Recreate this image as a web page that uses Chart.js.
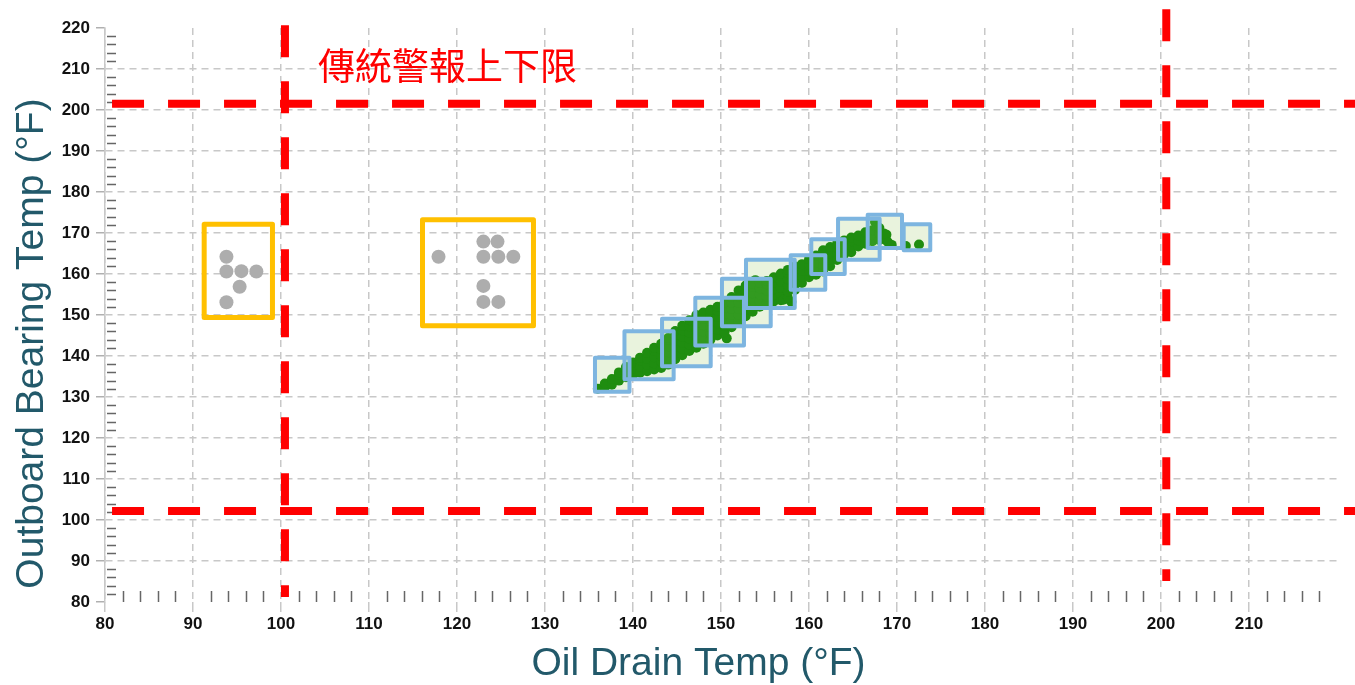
<!DOCTYPE html>
<html>
<head>
<meta charset="utf-8">
<script src="https://cdn.jsdelivr.net/npm/chart.js@4.4.1/dist/chart.umd.min.js"></script>
<style>
    html, body { margin: 0; padding: 0; background: #fff; }
    #wrap { width: 1355px; height: 685px; position: relative; }
</style>
</head>
<body>
<div id="wrap"><canvas id="chart"></canvas></div>
<script>
// Normal operation readings (oil drain temp, outboard bearing temp)
const normalPoints = [
    [136.0,132.0],
    [136.8,132.4],[136.8,133.3],
    [137.6,133.0],[137.6,134.4],
    [138.4,134.0],[138.4,135.4],[138.4,136.0],
    [139.2,134.8],[139.2,136.2],[139.2,137.3],
    [140.0,135.4],[140.0,136.9],[140.0,138.4],
    [140.8,135.9],[140.8,137.4],[140.8,138.9],[140.8,139.6],
    [141.6,136.3],[141.6,137.8],[141.6,139.3],[141.6,140.8],
    [142.4,136.7],[142.4,138.2],[142.4,139.7],[142.4,141.2],[142.4,142.0],
    [143.2,137.1],[143.2,138.6],[143.2,140.1],[143.2,141.6],[143.2,143.0],
    [144.0,137.9],[144.0,139.4],[144.0,140.9],[144.0,142.4],[144.0,143.9],[144.0,144.4],
    [144.8,139.2],[144.8,140.7],[144.8,142.2],[144.8,143.7],[144.8,145.2],[144.8,146.1],
    [145.6,140.2],[145.6,141.7],[145.6,143.2],[145.6,144.7],[145.6,146.2],[145.6,147.4],
    [146.4,141.2],[146.4,142.7],[146.4,144.2],[146.4,145.7],[146.4,147.2],[146.4,148.7],
    [147.2,142.0],[147.2,143.5],[147.2,145.0],[147.2,146.5],[147.2,148.0],[147.2,149.5],[147.2,150.0],
    [148.0,143.0],[148.0,144.5],[148.0,146.0],[148.0,147.5],[148.0,149.0],[148.0,150.6],
    [148.8,144.0],[148.8,145.5],[148.8,147.0],[148.8,148.5],[148.8,150.0],[148.8,151.3],
    [149.6,145.0],[149.6,146.5],[149.6,148.0],[149.6,149.5],[149.6,151.0],[149.6,152.0],
    [150.65,144.3],
    [150.4,145.8],[150.4,147.3],[150.4,148.8],[150.4,150.3],[150.4,151.8],[150.4,152.9],
    [151.2,147.0],[151.2,148.5],[151.2,150.0],[151.2,151.5],[151.2,153.0],[151.2,154.4],
    [152.0,148.5],[152.0,150.0],[152.0,151.5],[152.0,153.0],[152.0,154.5],[152.0,156.0],
    [152.8,149.7],[152.8,151.2],[152.8,152.7],[152.8,154.2],[152.8,155.7],[152.8,157.2],
    [153.3,157.8],[153.9,158.5],
    [153.6,150.8],[153.6,152.3],[153.6,153.8],[153.6,155.3],[153.6,156.8],[153.6,157.6],
    [154.4,152.0],[154.4,153.5],[154.4,155.0],[154.4,156.5],[154.4,157.9],
    [155.2,153.0],[155.2,154.5],[155.2,156.0],[155.2,157.5],[155.2,158.3],
    [156.0,153.3],[156.0,154.8],[156.0,156.3],[156.0,157.8],[156.0,159.2],
    [156.8,153.6],[156.8,155.1],[156.8,156.6],[156.8,158.1],[156.8,159.6],[156.8,160.1],
    [157.1,153.7],[158.0,153.2],
    [157.6,154.2],[157.6,155.7],[157.6,157.2],[157.6,158.7],[157.6,160.2],[157.6,161.0],
    [158.4,156.1],[158.4,157.6],[158.4,159.1],[158.4,160.6],[158.4,161.8],
    [159.2,157.8],[159.2,159.3],[159.2,160.8],[159.2,162.4],
    [160.0,159.2],[160.0,160.7],[160.0,162.2],[160.0,163.6],
    [160.8,159.8],[160.8,161.3],[160.8,162.8],[160.8,164.5],
    [161.6,160.6],[161.6,162.1],[161.6,163.6],[161.6,165.2],[161.6,165.8],
    [162.4,161.9],[162.4,163.4],[162.4,164.9],[162.4,166.6],
    [163.2,163.4],[163.2,164.9],[163.2,166.4],[163.2,167.4],
    [164.0,164.8],[164.0,166.3],[164.0,167.8],[164.0,168.2],
    [164.8,165.3],[164.8,166.7],[164.8,168.0],[164.8,168.9],
    [165.6,166.7],[165.6,168.2],[165.6,169.4],
    [166.4,167.4],[166.4,168.9],[166.4,170.2],
    [167.2,168.0],[167.2,169.5],[167.2,170.7],
    [167.5,172.7],[167.7,171.3],
    [168.0,168.3],[168.0,169.8],[168.0,171.2],
    [168.5,169.9],
    [168.8,168.2],[168.8,169.6],
    [169.0,167.7],[169.4,167.1],
    [171.0,166.8],[172.5,167.2]
];

// Abnormal readings (grey)
const abnormalPoints = [
    [93.8,164.2],[93.8,160.6],[95.5,160.7],[97.2,160.6],[95.3,156.9],[93.8,153.1],
    [117.9,164.2],[123.0,167.9],[124.6,167.9],[123.0,164.2],[124.7,164.2],[126.4,164.2],
    [123.0,157.1],[123.0,153.2],[124.7,153.2]
];

// Traditional alarm limits: [level, from, to]
const limitVertical = [[100.45, 220.7, 81.2], [200.6, 224.6, 85.1]];
const limitHorizontal = [[201.5, 80.8, 225], [102.2, 80.8, 225]];

// Boxes: [xMin, xMax, yMin, yMax]
const normalBoxes = [
    [135.68, 139.60, 131.30, 139.60],
    [139.03, 144.62, 134.34, 146.05],
    [143.30, 148.83, 137.49, 149.10],
    [147.08, 152.61, 142.56, 154.20],
    [150.11, 155.65, 147.24, 158.85],
    [152.84, 158.38, 151.71, 163.49],
    [157.92, 161.85, 156.17, 164.56],
    [160.26, 164.06, 160.00, 168.46],
    [163.30, 168.03, 163.49, 173.49],
    [166.67, 170.57, 166.34, 174.46],
    [170.76, 173.78, 165.78, 172.12]
];
const abnormalBoxes = [
    [91.27, 99.03, 149.39, 172.15],
    [116.08, 128.69, 147.37, 173.22]
];

const xTitle = 'Oil Drain Temp (°F)';
const yTitle = 'Outboard Bearing Temp (°F)';
const limitLabel = '傳統警報上下限';

const TEAL = '#22596a';
const GRID = '#c8c8c8';
const NONE = 'rgba(0,0,0,0)';

function boxRect(scales, b) {
    const l = scales.x.getPixelForValue(b[0]);
    const r = scales.x.getPixelForValue(b[1]);
    const t = scales.y.getPixelForValue(b[3]);
    const btm = scales.y.getPixelForValue(b[2]);
    return [l, t, r - l, btm - t];
}

const decorations = {
    id: 'decorations',
    beforeDatasetsDraw(chart) {
        const { ctx, scales, chartArea } = chart;
        ctx.save();
        // box fills under the points
        ctx.fillStyle = '#e9f3dd';
        normalBoxes.forEach(b => ctx.fillRect(...boxRect(scales, b)));

        // minor ticks every 2 degrees
        ctx.strokeStyle = '#666';
        ctx.lineWidth = 1.5;
        ctx.beginPath();
        for (let v = 82; v < 220; v += 2) {
            if (v % 10 === 0) continue;
            const px = Math.round(scales.x.getPixelForValue(v)) + 0.5;
            ctx.moveTo(px, chartArea.bottom - 11);
            ctx.lineTo(px, chartArea.bottom);
            const py = Math.round(scales.y.getPixelForValue(v)) + 0.5;
            ctx.moveTo(chartArea.left + 2, py);
            ctx.lineTo(chartArea.left + 11, py);
        }
        ctx.stroke();
        ctx.restore();
    },
    afterDatasetsDraw(chart) {
        const { ctx, scales } = chart;
        ctx.save();
        // overlapping box areas look lighter
        ctx.fillStyle = 'rgba(120,200,90,0.22)';
        for (let i = 0; i < normalBoxes.length; i++) {
            for (let j = i + 1; j < normalBoxes.length; j++) {
                const a = normalBoxes[i], b = normalBoxes[j];
                const ov = [Math.max(a[0], b[0]), Math.min(a[1], b[1]), Math.max(a[2], b[2]), Math.min(a[3], b[3])];
                if (ov[0] < ov[1] && ov[2] < ov[3]) ctx.fillRect(...boxRect(scales, ov));
            }
        }
        ctx.lineJoin = 'round';
        ctx.strokeStyle = '#7db5e0';
        ctx.lineWidth = 4;
        normalBoxes.forEach(b => ctx.strokeRect(...boxRect(scales, b)));
        ctx.strokeStyle = '#ffc000';
        ctx.lineWidth = 5;
        abnormalBoxes.forEach(b => ctx.strokeRect(...boxRect(scales, b)));
        ctx.restore();
    },
    afterDraw(chart) {
        const { ctx } = chart;
        ctx.save();
        ctx.fillStyle = '#ff0000';
        ctx.font = '37px "Noto Sans CJK TC"';
        ctx.textAlign = 'left';
        ctx.textBaseline = 'middle';
        ctx.fillText(limitLabel, 318, 66);

        ctx.fillStyle = TEAL;
        ctx.font = '39px "Liberation Sans"';
        ctx.textAlign = 'center';
        ctx.textBaseline = 'alphabetic';
        ctx.fillText(xTitle, 698.5, 675);
        ctx.translate(42.5, 343.5);
        ctx.rotate(-Math.PI / 2);
        ctx.fillText(yTitle, 0, 0);
        ctx.restore();
    }
};

const tickFont = { family: 'Liberation Sans', size: 17, weight: 'bold' };

const limitSets = [
    ...limitVertical.map(l => ({ x0: l[0], y0: l[1], x1: l[0], y1: l[2] })),
    ...limitHorizontal.map(l => ({ x0: l[1], y0: l[0], x1: l[2], y1: l[0] }))
].map(s => ({
    data: [{ x: s.x0, y: s.y0 }, { x: s.x1, y: s.y1 }],
    showLine: true,
    borderColor: '#ff0000',
    borderWidth: 8,
    borderDash: [32, 24],
    borderCapStyle: 'butt',
    pointRadius: 0,
    clip: false
}));

new Chart(document.getElementById('chart'), {
    type: 'scatter',
    data: {
        datasets: [
            ...limitSets,
            {
                data: normalPoints.map(p => ({ x: p[0], y: p[1] })),
                backgroundColor: '#1f8d10',
                borderWidth: 0,
                pointRadius: 5
            },
            {
                data: abnormalPoints.map(p => ({ x: p[0], y: p[1] })),
                backgroundColor: '#adadad',
                borderWidth: 0,
                pointRadius: 7
            }
        ]
    },
    options: {
        responsive: true,
        maintainAspectRatio: false,
        animation: false,
        layout: { padding: { top: 28, left: 40, right: 18, bottom: 43 } },
        plugins: { legend: { display: false }, tooltip: { enabled: false } },
        scales: {
            x: {
                type: 'linear',
                min: 80,
                max: 220,
                afterFit: s => { s.height = 40; },
                ticks: {
                    stepSize: 10,
                    autoSkip: false,
                    maxRotation: 0,
                    padding: 2,
                    color: '#111',
                    font: tickFont,
                    callback: v => v === 220 ? '' : v
                },
                grid: {
                    color: c => c.tick && c.tick.value === 220 ? NONE : GRID,
                    tickColor: c => c.tick && c.tick.value === 220 ? NONE : GRID,
                    lineWidth: 1.5,
                    tickWidth: 1.5,
                    tickLength: 10
                },
                border: { display: false, dash: [7, 5] }
            },
            y: {
                type: 'linear',
                min: 80,
                max: 220,
                afterFit: s => { s.width = 65; },
                ticks: {
                    stepSize: 10,
                    padding: 6,
                    color: '#111',
                    font: tickFont
                },
                grid: {
                    color: c => c.tick && (c.tick.value === 80 || c.tick.value === 220) ? NONE : GRID,
                    tickColor: '#b0b0b0',
                    lineWidth: 1.5,
                    tickWidth: 1.5,
                    tickLength: 9
                },
                border: { display: true, color: GRID, width: 1.5, dash: [7, 5] }
            }
        }
    },
    plugins: [decorations]
});
</script>
</body>
</html>
